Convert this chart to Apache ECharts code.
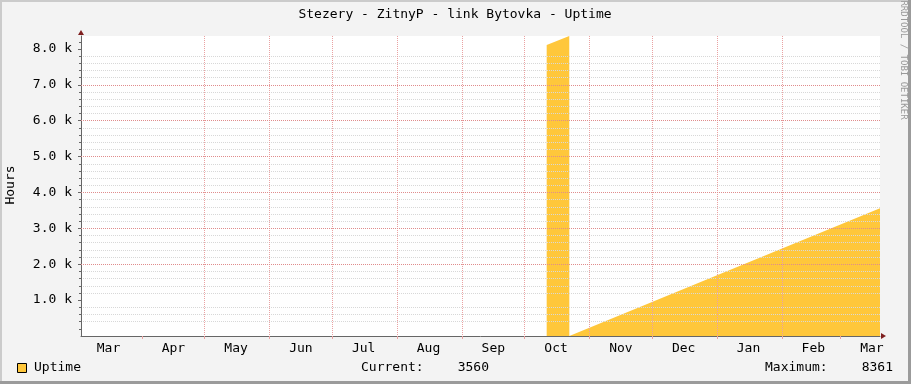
<!DOCTYPE html>
<html><head><meta charset="utf-8">
<script src="https://cdn.jsdelivr.net/npm/echarts@6/dist/echarts.min.js"></script>
<style>html,body{margin:0;padding:0;background:#f3f3f3}#c{width:911px;height:384px}</style>
</head><body><div id="c"></div>
<script>
// ---- data ----
const chartTitle = 'Stezery - ZitnyP - link Bytovka - Uptime';
const yAxisName = 'Hours';
const seriesName = 'Uptime';
const axisRange = ['2013-03-02T20:00:00Z', '2014-03-19T21:00:00Z'];
const monthStarts = ['2013-04-01','2013-05-01','2013-06-01','2013-07-01','2013-08-01','2013-09-01',
  '2013-10-01','2013-11-01','2013-12-01','2014-01-01','2014-02-01','2014-03-01'];
const monthLabelDates = ['2013-03-16','2013-04-16','2013-05-16','2013-06-16','2013-07-16','2013-08-16',
  '2013-09-16','2013-10-16','2013-11-16','2013-12-16','2014-01-16','2014-02-16','2014-03-16'];
const monthLabels = ['Mar','Apr','May','Jun','Jul','Aug','Sep','Oct','Nov','Dec','Jan','Feb','Mar'];
const yTickValues = [1000, 2000, 3000, 4000, 5000, 6000, 7000, 8000];
const yTickLabels = ['1.0 k','2.0 k','3.0 k','4.0 k','5.0 k','6.0 k','7.0 k','8.0 k'];
const uptimeTimes = ['2013-10-11T12:00:00Z','2013-10-22T07:00:00Z','2013-10-22T08:00:00Z','2014-03-19T21:00:00Z'];
const uptimeHours = [8110, 8361, 0, 3560];
const yMinorStep = 200;

// ---- build ----
const ms = s => Date.parse(s.length === 10 ? s + 'T00:00:00Z' : s);
const xMin = ms(axisRange[0]), xMax = ms(axisRange[1]);
const labelMap = {};
monthLabelDates.forEach((d, i) => { labelMap[ms(d)] = monthLabels[i]; });
const yLabelMap = {};
yTickValues.forEach((v, i) => { yLabelMap[v] = yTickLabels[i]; });
const seriesData = uptimeTimes.map((t, i) => [ms(t), uptimeHours[i]]);
const currentVal = uptimeHours[uptimeHours.length - 1];
const maxVal = Math.max.apply(null, uptimeHours);
const minorValues = [];
for (let v = yMinorStep; v < maxVal; v += yMinorStep) { if (yTickValues.indexOf(v) < 0) minorValues.push(v); }

const FONT = 'DejaVu Sans Mono';
const G = { left: 81, top: 36, right: 31, bottom: 48 };
const W = 911, H = 384;
const gx0 = G.left, gx1 = W - G.right, gy0 = G.top, gy1 = H - G.bottom;
const MAJOR_V = '#eaa2a2', MAJOR_H = '#e08c8c', MINOR = '#d8d8d8', AXIS = '#666666', ARROW = '#7f1f1f', FILL = '#ffc73b';

const chart = echarts.init(document.getElementById('c'), null, { renderer: 'canvas' });
chart.setOption({
  backgroundColor: '#f3f3f3',
  animation: false,
  grid: { left: G.left, top: G.top, right: G.right, bottom: G.bottom, show: true,
          backgroundColor: '#ffffff', borderWidth: 0 },
  xAxis: {
    type: 'value', min: xMin, max: xMax, z: 5,
    axisLine: { show: true, lineStyle: { color: AXIS, width: 1 } },
    axisTick: { show: true, customValues: monthStarts.map(ms), length: 3,
                lineStyle: { color: MAJOR_V } },
    splitLine: { show: true, showMinLine: false, showMaxLine: false,
                 lineStyle: { color: MAJOR_V, type: [1, 1], width: 1 } },
    axisLabel: { customValues: monthLabelDates.map(ms), formatter: v => labelMap[v] || '',
                 fontFamily: FONT, fontSize: 13, color: '#000', margin: 6 }
  },
  yAxis: [{
    type: 'value', min: 0, max: maxVal, z: 5,
    axisLine: { show: true, lineStyle: { color: AXIS, width: 1 } },
    axisTick: { show: true, customValues: minorValues, length: 2, lineStyle: { color: AXIS } },
    splitLine: { show: true, showMinLine: false, showMaxLine: false,
                 lineStyle: { color: MINOR, type: [1, 1], width: 1 } },
    axisLabel: { customValues: yTickValues, fontFamily: FONT, fontSize: 13, color: '#000', margin: 9,
                 formatter: v => yLabelMap[v] || '' }
  }, {
    type: 'value', min: 0, max: maxVal, position: 'left', z: 6,
    axisLine: { show: false }, axisLabel: { show: false },
    axisTick: { show: true, customValues: yTickValues, length: 3, lineStyle: { color: AXIS } },
    splitLine: { show: true, showMinLine: false, showMaxLine: false,
                 lineStyle: { color: MAJOR_H, type: [1, 1], width: 1 } }
  }],
  series: [{
    name: seriesName, type: 'line', yAxisIndex: 0, data: seriesData,
    showSymbol: false, symbol: 'none', z: 2,
    lineStyle: { width: 0, color: FILL }, itemStyle: { color: FILL },
    areaStyle: { color: FILL, opacity: 1 }
  }],
  graphic: [
    { type: 'rect', shape: { x: 0, y: 0, width: W, height: 2 }, style: { fill: '#cbcbcb' }, silent: true },
    { type: 'rect', shape: { x: 0, y: 0, width: 2, height: H }, style: { fill: '#cbcbcb' }, silent: true },
    { type: 'rect', shape: { x: W - 3, y: 0, width: 3, height: H }, style: { fill: '#9b9b9b' }, silent: true },
    { type: 'rect', shape: { x: 0, y: H - 3, width: W, height: 3 }, style: { fill: '#9b9b9b' }, silent: true },
    { type: 'text', x: 455, y: 15, style: { text: chartTitle, font: '13px ' + FONT, fill: '#000',
      align: 'center', verticalAlign: 'middle' } },
    { type: 'text', x: 11, y: 185, rotation: Math.PI / 2, style: { text: yAxisName, font: '13px ' + FONT,
      fill: '#000', align: 'center', verticalAlign: 'middle' } },
    { type: 'text', x: 903, y: 60, rotation: -Math.PI / 2, style: { text: 'RRDTOOL / TOBI OETIKER',
      font: '9px ' + FONT, fill: '#999', align: 'center', verticalAlign: 'middle' } },
    { type: 'polygon', shape: { points: [[gx0, gy0 - 6], [gx0 - 3, gy0 - 1], [gx0 + 3, gy0 - 1]] },
      style: { fill: ARROW }, z: 10 },
    { type: 'polygon', shape: { points: [[gx1 + 6, gy1], [gx1 + 1, gy1 - 3], [gx1 + 1, gy1 + 3]] },
      style: { fill: ARROW }, z: 10 },
    { type: 'rect', shape: { x: 17.5, y: 363.5, width: 9, height: 9 }, style: { fill: FILL, stroke: '#000', lineWidth: 1 } },
    { type: 'text', x: 34, y: 368, style: { text: seriesName, font: '13px ' + FONT, fill: '#000', verticalAlign: 'middle' } },
    { type: 'text', x: 361, y: 368, style: { text: 'Current:', font: '13px ' + FONT, fill: '#000', verticalAlign: 'middle' } },
    { type: 'text', x: 489, y: 368, style: { text: String(currentVal), font: '13px ' + FONT, fill: '#000',
      align: 'right', verticalAlign: 'middle' } },
    { type: 'text', x: 765, y: 368, style: { text: 'Maximum:', font: '13px ' + FONT, fill: '#000', verticalAlign: 'middle' } },
    { type: 'text', x: 893, y: 368, style: { text: String(maxVal), font: '13px ' + FONT, fill: '#000',
      align: 'right', verticalAlign: 'middle' } }
  ]
});
</script></body></html>
